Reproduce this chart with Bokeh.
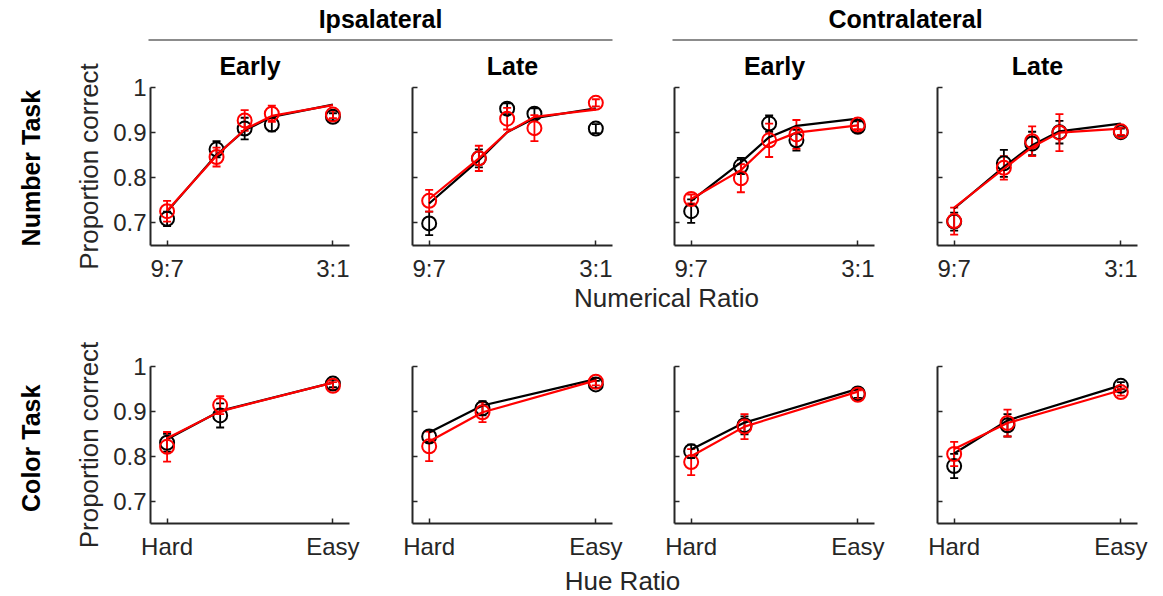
import math
from bokeh.plotting import figure
from bokeh.layouts import column, row
from bokeh.models import ColumnDataSource, Whisker, TeeHead, FixedTicker, Range1d
from bokeh.core.properties import value
from bokeh.embed import file_html
from bokeh.resources import INLINE

FONT = "Liberation Sans"
TXT = "#262626"

# ---------------- data ----------------
number_x = [1.29, 1.80, 2.09, 2.37, 3.0]
number_ticks = [1.29, 3.0]
number_tick_labels = ["9:7", "3:1"]
hue_x = [0.0, 0.32, 1.0]
hue_ticks = [0.0, 1.0]
hue_tick_labels = ["Hard", "Easy"]
y_ticks = [0.7, 0.8, 0.9, 1.0]
y_tick_labels = ["0.7", "0.8", "0.9", "1"]

column_groups = ["Ipsalateral", "Contralateral"]
epochs = ["Early", "Late", "Early", "Late"]

# Number task: points, error bars, fitted curves (black / red)
num_black_pts = [
    [0.709, 0.863, 0.909, 0.918, 0.935],
    [0.699, 0.843, 0.953, 0.942, 0.909],
    [0.726, 0.826, 0.920, 0.883, 0.913],
    [0.703, 0.832, 0.876, 0.901, 0.901],
]
num_black_err = [
    [0.016, 0.018, 0.024, 0.015, 0.008],
    [0.026, 0.020, 0.012, 0.012, 0.010],
    [0.026, 0.018, 0.018, 0.023, 0.012],
    [0.020, 0.030, 0.026, 0.025, 0.008],
]
num_red_pts = [
    [0.726, 0.846, 0.927, 0.942, 0.940],
    [0.749, 0.843, 0.931, 0.910, 0.966],
    [0.753, 0.799, 0.883, 0.896, 0.918],
    [0.704, 0.822, 0.881, 0.900, 0.903],
]
num_red_err = [
    [0.023, 0.021, 0.023, 0.018, 0.008],
    [0.024, 0.028, 0.024, 0.029, 0.008],
    [0.010, 0.031, 0.037, 0.032, 0.010],
    [0.030, 0.026, 0.033, 0.041, 0.008],
]
num_black_fit = [
    [0.725, 0.851, 0.905, 0.935, 0.962],
    [0.743, 0.839, 0.901, 0.932, 0.954],
    [0.749, 0.834, 0.890, 0.915, 0.931],
    [0.732, 0.824, 0.872, 0.903, 0.920],
]
num_red_fit = [
    [0.727, 0.849, 0.907, 0.937, 0.961],
    [0.753, 0.843, 0.901, 0.935, 0.951],
    [0.753, 0.817, 0.876, 0.900, 0.916],
    [0.734, 0.820, 0.868, 0.900, 0.909],
]

# Color task
col_black_pts = [
    [0.830, 0.891, 0.962],
    [0.844, 0.907, 0.960],
    [0.811, 0.869, 0.940],
    [0.778, 0.869, 0.957],
]
col_black_err = [
    [0.020, 0.027, 0.008],
    [0.012, 0.016, 0.008],
    [0.015, 0.020, 0.010],
    [0.027, 0.025, 0.008],
]
col_red_pts = [
    [0.821, 0.914, 0.957],
    [0.822, 0.898, 0.966],
    [0.787, 0.866, 0.937],
    [0.805, 0.874, 0.943],
]
col_red_err = [
    [0.033, 0.020, 0.008],
    [0.033, 0.022, 0.008],
    [0.029, 0.028, 0.010],
    [0.027, 0.030, 0.008],
]
col_black_fit = [
    [0.838, 0.901, 0.964],
    [0.853, 0.913, 0.972],
    [0.815, 0.875, 0.950],
    [0.806, 0.880, 0.958],
]
col_red_fit = [
    [0.840, 0.900, 0.964],
    [0.833, 0.898, 0.969],
    [0.800, 0.866, 0.944],
    [0.816, 0.874, 0.947],
]

# ---------------- layout helpers ----------------
widths = [321, 262, 262, 258]
lefts = [90, 31, 31, 32]
rights = [32, 31, 31, 26]


def strip(w, h):
    s = figure(width=w, height=h, x_range=Range1d(0, w), y_range=Range1d(0, h),
               output_backend="svg", toolbar_location=None,
               x_axis_type=None, y_axis_type=None,
               min_border_left=0, min_border_right=0, min_border_top=0, min_border_bottom=0,
               outline_line_color=None)
    s.grid.visible = False
    return s


def panel(i, xs, ticks, tick_labels, black_pts, black_err, red_pts, red_err,
          black_fit, red_fit, height, top, bottom, title=None):
    span = ticks[1] - ticks[0]
    p = figure(width=widths[i], height=height,
               x_range=Range1d(ticks[0] - 0.1 * span, ticks[1] + 0.1 * span),
               y_range=Range1d(0.65, 1.0),
               output_backend="svg", toolbar_location=None,
               min_border_left=lefts[i], min_border_right=rights[i],
               min_border_top=top, min_border_bottom=bottom,
               outline_line_color=None)
    p.grid.visible = False
    if title:
        p.title.text = title
        p.title.align = "center"
        p.title.text_font = FONT
        p.title.text_font_size = "25px"
        p.title.text_font_style = "bold"
        p.title.text_color = "black"
        p.title.standoff = 16
    for ax in (p.xaxis[0], p.yaxis[0]):
        ax.axis_line_color = TXT
        ax.axis_line_width = 2
        ax.major_tick_line_color = TXT
        ax.major_tick_line_width = 1.5
        ax.major_tick_in = 5
        ax.major_tick_out = 0
        ax.minor_tick_line_color = None
        ax.major_label_text_font = FONT
        ax.major_label_text_color = TXT
        ax.major_label_text_font_size = "24px"
        ax.axis_label_text_font = FONT
        ax.axis_label_text_font_size = "26px"
        ax.axis_label_text_font_style = "normal"
        ax.axis_label_text_color = TXT
    p.xaxis.ticker = FixedTicker(ticks=ticks)
    p.xaxis.major_label_overrides = {t: l for t, l in zip(ticks, tick_labels)}
    p.xaxis.major_label_standoff = 9
    p.yaxis.ticker = FixedTicker(ticks=y_ticks)
    if i == 0:
        p.yaxis.major_label_overrides = {t: l for t, l in zip(y_ticks, y_tick_labels)}
        p.yaxis.major_label_standoff = 4
        p.yaxis.axis_label = "Proportion correct"
        p.yaxis.axis_label_standoff = 6
    else:
        p.yaxis.major_label_overrides = {t: "" for t in y_ticks}
        p.yaxis.major_label_standoff = 0

    for color, pts, err, fit in (("black", black_pts, black_err, black_fit),
                                 ("#ff0000", red_pts, red_err, red_fit)):
        src = ColumnDataSource(dict(
            x=xs, y=pts, fit=fit,
            lo=[a - b for a, b in zip(pts, err)],
            hi=[a + b for a, b in zip(pts, err)]))
        p.line("x", "fit", source=src, line_color=color, line_width=2.2)
        p.scatter("x", "y", source=src, marker="circle", size=14, fill_color=None,
                  line_color=color, line_width=2)
        w = Whisker(source=src, base="x", lower="lo", upper="hi",
                    line_color=color, line_width=1.8,
                    lower_head=TeeHead(size=8, line_color=color, line_width=1.8),
                    upper_head=TeeHead(size=8, line_color=color, line_width=1.8))
        p.add_layout(w)
    return p


# ---------------- header (y 0-41) ----------------
header = strip(1163, 41)
header.text(x=[380, 905], y=[23, 23], text=column_groups,
            text_font=value(FONT), text_font_size="25px", text_font_style="bold",
            text_color="black", text_align="center", text_baseline="middle")
header.segment(x0=[148, 672], y0=[1.5, 1.5], x1=[612, 1137], y1=[1.5, 1.5],
               line_color="#8c8c8c", line_width=2)

# ---------------- row 1: number task (y 41-284) ----------------
s1 = strip(60, 243)
s1.text(x=[30], y=[119], text=["Number Task"], angle=math.pi / 2,
        text_font=value(FONT), text_font_size="25px", text_font_style="bold",
        text_color="black", text_align="center", text_baseline="middle")
row1 = [s1]
for i in range(4):
    row1.append(panel(i, number_x, number_ticks, number_tick_labels,
                      num_black_pts[i], num_black_err[i], num_red_pts[i], num_red_err[i],
                      num_black_fit[i], num_red_fit[i], 243, 46, 38, title=epochs[i]))

# ---------------- x label 1 (y 284-322) ----------------
mid = strip(1163, 38)
mid.text(x=[666], y=[25], text=["Numerical Ratio"],
         text_font=value(FONT), text_font_size="26px", text_color=TXT,
         text_align="center", text_baseline="middle")

# ---------------- row 2: color task (y 322-562) ----------------
s2 = strip(60, 240)
s2.text(x=[30], y=[115], text=["Color Task"], angle=math.pi / 2,
        text_font=value(FONT), text_font_size="25px", text_font_style="bold",
        text_color="black", text_align="center", text_baseline="middle")
row2 = [s2]
for i in range(4):
    row2.append(panel(i, hue_x, hue_ticks, hue_tick_labels,
                      col_black_pts[i], col_black_err[i], col_red_pts[i], col_red_err[i],
                      col_black_fit[i], col_red_fit[i], 240, 44, 38))

bottom = strip(1163, 34)
bottom.text(x=[622], y=[16], text=["Hue Ratio"],
            text_font=value(FONT), text_font_size="26px", text_color=TXT,
            text_align="center", text_baseline="middle")

layout = column(header, row(*row1), mid, row(*row2), bottom)
open("out.html", "w").write(file_html(layout, INLINE))
